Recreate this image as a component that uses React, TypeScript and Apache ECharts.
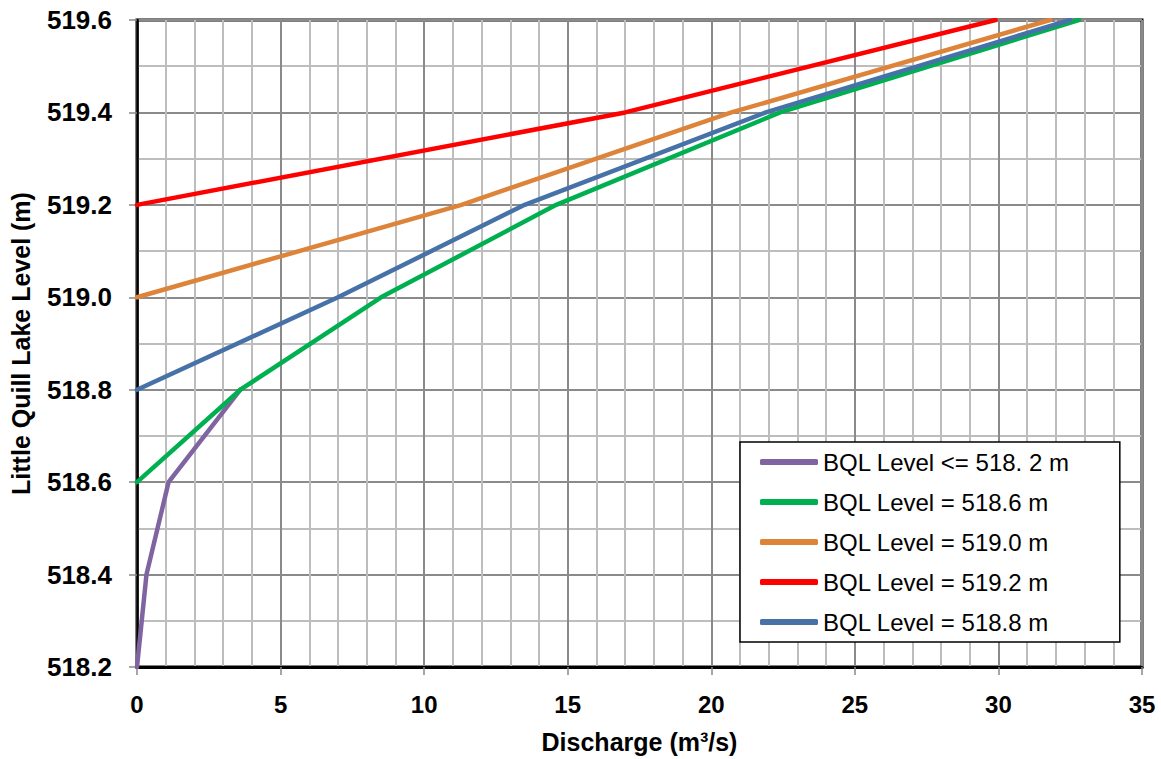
import React, { useEffect, useRef } from "react";
import * as echarts from "echarts";

const seriesNames = [
  "BQL Level <= 518. 2 m",
  "BQL Level = 518.6 m",
  "BQL Level = 519.0 m",
  "BQL Level = 519.2 m",
  "BQL Level = 518.8 m",
];
const seriesColors = ["#8064A2", "#00B050", "#DD843A", "#FF0000", "#4672A8"];

// [discharge, level]
const purpleData = [
  [0, 518.2],
  [0.33, 518.4],
  [1.1, 518.6],
  [3.6, 518.8],
];
const greenData = [
  [0, 518.6],
  [3.6, 518.8],
  [8.5, 519.0],
  [14.6, 519.2],
  [22.4, 519.4],
  [32.8, 519.6],
];
const orangeData = [
  [0, 519.0],
  [11.3, 519.2],
  [20.7, 519.4],
  [31.8, 519.6],
];
const redData = [
  [0, 519.2],
  [17.0, 519.4],
  [29.9, 519.6],
];
const blueData = [
  [0, 518.8],
  [7.0, 519.0],
  [13.5, 519.2],
  [21.9, 519.4],
  [32.5, 519.6],
];
const allData = [purpleData, greenData, orangeData, redData, blueData];

const xMin = 0;
const xMax = 35;
const xInterval = 5;
const yMin = 518.2;
const yMax = 519.6;
const yInterval = 0.2;

const FONT = "'Liberation Sans', Arial, sans-serif";

export default function App() {
  const ref = useRef<HTMLDivElement>(null);
  useEffect(() => {
    if (!ref.current) return;
    const chart = echarts.init(ref.current, undefined, { renderer: "svg" });
    chart.setOption({
      animation: false,
      backgroundColor: "#fff",
      grid: {
        left: 137,
        top: 20,
        right: 19,
        bottom: 89,
        show: true,
        borderColor: "#000",
        borderWidth: 3,
        backgroundColor: "#fff",
      },
      legend: {
        orient: "vertical",
        left: 740,
        top: 442,
        padding: [8, 50, 8, 20],
        itemGap: 16,
        itemWidth: 58,
        itemHeight: 6,
        icon: "roundRect",
        backgroundColor: "#fff",
        borderColor: "#000",
        borderWidth: 1.5,
        borderRadius: 0,
        textStyle: {
          fontFamily: FONT,
          fontSize: 24,
          color: "#000",
          lineHeight: 24,
          padding: [0, 0, 0, 0],
        },
        data: seriesNames,
      },
      xAxis: {
        type: "value",
        min: xMin,
        max: xMax,
        interval: xInterval,
        name: "Discharge (m³/s)",
        nameLocation: "middle",
        nameGap: 62,
        nameTextStyle: {
          fontFamily: FONT,
          fontSize: 25,
          fontWeight: "bold",
          color: "#000",
        },
        axisLine: { show: true, onZero: false, lineStyle: { color: "#000", width: 3 } },
        axisTick: { show: true, length: 8, lineStyle: { color: "#888", width: 1.5 } },
        axisLabel: {
          margin: 25,
          fontFamily: FONT,
          fontSize: 24,
          fontWeight: "bold",
          color: "#000",
        },
        splitLine: { show: true, lineStyle: { color: "#8a8a8a", width: 2 } },
        minorTick: { show: false, splitNumber: 5 },
        minorSplitLine: { show: true, lineStyle: { color: "#bdbdbd", width: 2 } },
      },
      yAxis: {
        type: "value",
        min: yMin,
        max: yMax,
        interval: yInterval,
        name: "Little Quill Lake Level (m)",
        nameLocation: "middle",
        nameGap: 104,
        nameTextStyle: {
          fontFamily: FONT,
          fontSize: 25,
          fontWeight: "bold",
          color: "#000",
        },
        axisLine: { show: true, onZero: false, lineStyle: { color: "#000", width: 2.5 } },
        axisTick: { show: true, length: 8, lineStyle: { color: "#888", width: 1.5 } },
        axisLabel: {
          margin: 25,
          fontFamily: FONT,
          fontSize: 26,
          fontWeight: "bold",
          color: "#000",
          formatter: (v: number) => v.toFixed(1),
        },
        splitLine: { show: true, lineStyle: { color: "#8a8a8a", width: 2 } },
        minorTick: { show: false, splitNumber: 2 },
        minorSplitLine: { show: true, lineStyle: { color: "#bdbdbd", width: 2 } },
      },
      series: allData.map((d, i) => ({
        name: seriesNames[i],
        type: "line",
        data: d,
        showSymbol: false,
        symbol: "none",
        color: seriesColors[i],
        lineStyle: { color: seriesColors[i], width: 4.5, cap: "round", join: "round" },
        clip: true,
        z: 3 + i,
      })),
    });
    return () => chart.dispose();
  }, []);
  return (
    <div
      ref={ref}
      style={{ position: "absolute", left: 0, top: 0, width: 1161, height: 759 }}
    />
  );
}
